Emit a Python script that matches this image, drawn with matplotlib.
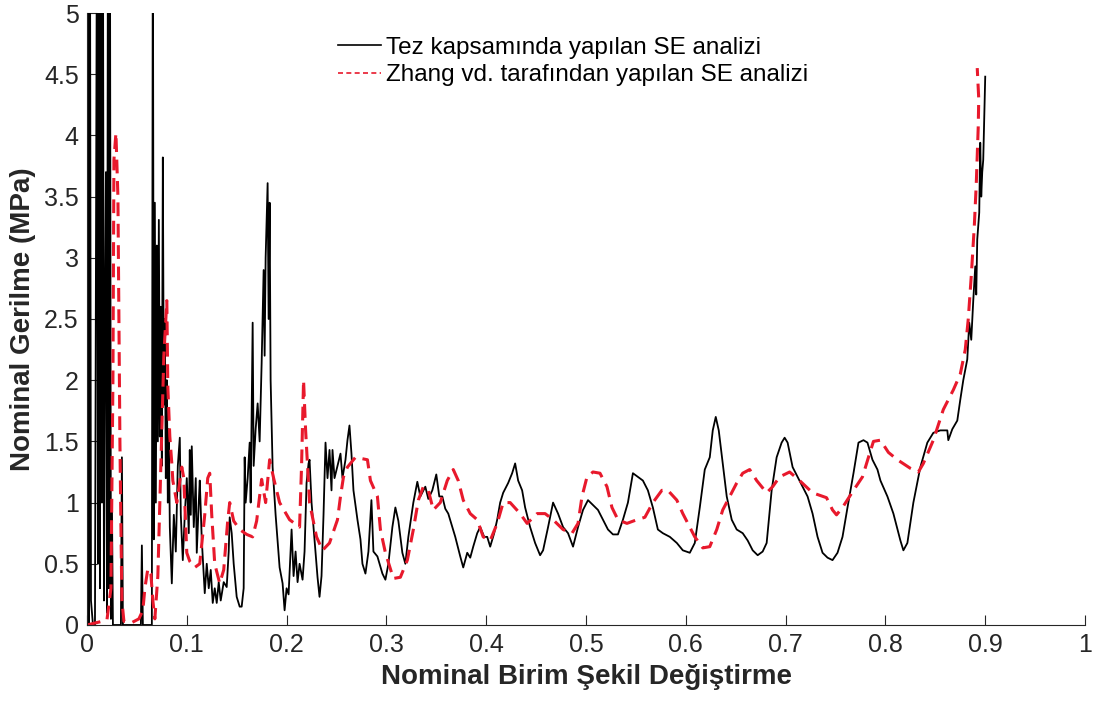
import matplotlib
matplotlib.use("Agg")
import matplotlib.pyplot as plt
from matplotlib.lines import Line2D

# --- black curve: values (values above 5 run off the top)
tez_x = [0.000, 0.001, 0.002, 0.003, 0.004, 0.006, 0.008, 0.010, 0.011, 0.012,
         0.013, 0.014, 0.015, 0.016, 0.017, 0.018, 0.019, 0.020, 0.021, 0.022,
         0.023, 0.024, 0.025, 0.026, 0.034, 0.035, 0.036, 0.054, 0.055, 0.056,
         0.065, 0.066, 0.067, 0.068, 0.069, 0.070, 0.071, 0.072, 0.073, 0.074,
         0.075, 0.076, 0.077, 0.078, 0.079, 0.080, 0.081, 0.082, 0.083, 0.085,
         0.087, 0.089, 0.091, 0.093, 0.094, 0.096, 0.098, 0.100, 0.102, 0.103,
         0.104, 0.105, 0.107, 0.109, 0.110, 0.112, 0.113, 0.115, 0.118, 0.120,
         0.122, 0.124, 0.126, 0.128, 0.130, 0.132, 0.134, 0.137, 0.140, 0.142,
         0.143, 0.145, 0.147, 0.150, 0.153, 0.155, 0.157, 0.158, 0.159, 0.161,
         0.163, 0.164, 0.166, 0.167, 0.169, 0.171, 0.173, 0.175, 0.177, 0.178,
         0.179, 0.181, 0.182, 0.183, 0.184, 0.186, 0.189, 0.193, 0.196, 0.198,
         0.200, 0.202, 0.205, 0.207, 0.209, 0.211, 0.213, 0.216, 0.218, 0.220,
         0.222, 0.223, 0.225, 0.228, 0.231, 0.233, 0.235, 0.237, 0.239, 0.241,
         0.243, 0.245, 0.246, 0.248, 0.251, 0.254, 0.256, 0.259, 0.261, 0.263,
         0.265, 0.267, 0.271, 0.274, 0.276, 0.279, 0.282, 0.285, 0.287, 0.291,
         0.296, 0.299, 0.302, 0.306, 0.309, 0.312, 0.316, 0.319, 0.322, 0.327,
         0.331, 0.334, 0.339, 0.342, 0.346, 0.350, 0.353, 0.356, 0.359, 0.362,
         0.366, 0.369, 0.374, 0.377, 0.381, 0.384, 0.387, 0.391, 0.394, 0.398,
         0.401, 0.404, 0.408, 0.411, 0.414, 0.417, 0.422, 0.426, 0.429, 0.432,
         0.436, 0.439, 0.444, 0.449, 0.454, 0.457, 0.462, 0.467, 0.472, 0.477,
         0.482, 0.487, 0.492, 0.497, 0.502, 0.507, 0.512, 0.517, 0.522, 0.527,
         0.532, 0.537, 0.542, 0.547, 0.552, 0.557, 0.562, 0.567, 0.572, 0.577,
         0.584, 0.591, 0.597, 0.604, 0.609, 0.614, 0.619, 0.624, 0.627, 0.630,
         0.633, 0.637, 0.641, 0.646, 0.651, 0.657, 0.662, 0.667, 0.672, 0.677,
         0.681, 0.686, 0.691, 0.696, 0.699, 0.702, 0.707, 0.712, 0.717, 0.722,
         0.727, 0.732, 0.737, 0.742, 0.747, 0.752, 0.757, 0.762, 0.768, 0.773,
         0.778, 0.782, 0.787, 0.792, 0.795, 0.802, 0.808, 0.815, 0.818, 0.822,
         0.828, 0.835, 0.842, 0.848, 0.855, 0.862, 0.863, 0.867, 0.872, 0.875,
         0.878, 0.882, 0.884, 0.886, 0.888, 0.890, 0.891, 0.892, 0.894, 0.895,
         0.896, 0.897, 0.898, 0.900]
tez_y = [0.00, 6.00, 0.00, 6.00, 0.20, 0.00, 0.00, 6.00, 0.50, 6.00,
         0.30, 6.00, 1.00, 6.00, 0.20, 2.50, 3.70, 0.10, 6.00, 0.30,
         6.00, 0.05, 1.00, 0.00, 0.00, 1.37, 0.00, 0.00, 0.65, 0.00,
         0.00, 6.00, 0.70, 3.45, 1.00, 3.10, 1.50, 3.31, 1.54, 2.60,
         1.30, 3.82, 1.80, 2.50, 1.20, 2.00, 1.00, 1.60, 0.80, 0.34,
         0.90, 0.60, 1.30, 1.53, 0.90, 0.53, 0.90, 1.20, 0.75, 1.43,
         0.90, 1.46, 0.80, 1.20, 0.59, 1.00, 1.18, 0.70, 0.26, 0.50,
         0.30, 0.45, 0.18, 0.30, 0.18, 0.35, 0.20, 0.35, 0.31, 0.60,
         0.88, 0.75, 0.50, 0.23, 0.15, 0.15, 0.30, 1.37, 1.00, 1.20,
         1.49, 1.00, 2.47, 1.30, 1.60, 1.81, 1.50, 2.14, 2.90, 2.20,
         3.00, 3.61, 2.50, 3.45, 2.00, 1.29, 0.90, 0.47, 0.34, 0.12,
         0.30, 0.25, 0.78, 0.40, 0.60, 0.35, 0.50, 0.37, 0.60, 1.16,
         1.32, 1.35, 1.00, 0.70, 0.39, 0.23, 0.40, 0.90, 1.49, 1.20,
         1.43, 1.10, 1.43, 1.20, 1.30, 1.40, 1.20, 1.35, 1.51, 1.63,
         1.40, 1.10, 0.86, 0.70, 0.50, 0.42, 0.60, 1.02, 0.60, 0.56,
         0.42, 0.37, 0.50, 0.80, 0.96, 0.85, 0.59, 0.50, 0.72, 1.00,
         1.17, 1.05, 1.13, 1.03, 1.10, 1.23, 1.05, 1.05, 0.95, 0.91,
         0.80, 0.72, 0.56, 0.47, 0.59, 0.55, 0.64, 0.75, 0.80, 0.72,
         0.72, 0.64, 0.75, 0.86, 1.00, 1.08, 1.16, 1.24, 1.32, 1.18,
         1.10, 0.96, 0.80, 0.67, 0.57, 0.61, 0.80, 1.00, 0.91, 0.80,
         0.75, 0.64, 0.80, 0.94, 1.02, 0.98, 0.94, 0.86, 0.78, 0.74,
         0.74, 0.86, 1.00, 1.24, 1.21, 1.18, 1.10, 0.96, 0.78, 0.75,
         0.72, 0.67, 0.61, 0.59, 0.67, 0.96, 1.27, 1.37, 1.59, 1.70,
         1.59, 1.32, 1.05, 0.86, 0.78, 0.75, 0.69, 0.61, 0.57, 0.60,
         0.67, 1.10, 1.37, 1.49, 1.53, 1.49, 1.29, 1.21, 1.13, 1.05,
         0.91, 0.72, 0.59, 0.55, 0.53, 0.59, 0.72, 0.96, 1.24, 1.49,
         1.51, 1.49, 1.35, 1.27, 1.18, 1.05, 0.91, 0.69, 0.61, 0.67,
         1.00, 1.29, 1.49, 1.57, 1.59, 1.59, 1.51, 1.60, 1.67, 1.84,
         2.00, 2.17, 2.47, 2.33, 2.65, 2.93, 2.70, 3.15, 3.37, 3.94,
         3.50, 3.70, 3.80, 4.48]

# --- red dashed curve
zhang_x = [0.000, 0.010, 0.020, 0.024, 0.026, 0.027, 0.029, 0.031, 0.032, 0.033,
           0.034, 0.035, 0.037, 0.045, 0.052, 0.056, 0.058, 0.061, 0.064, 0.066,
           0.068, 0.071, 0.074, 0.077, 0.080, 0.081, 0.083, 0.085, 0.086, 0.090,
           0.095, 0.097, 0.100, 0.103, 0.108, 0.113, 0.118, 0.121, 0.123, 0.125,
           0.128, 0.133, 0.137, 0.141, 0.143, 0.147, 0.153, 0.160, 0.166, 0.170,
           0.175, 0.179, 0.183, 0.187, 0.193, 0.203, 0.213, 0.215, 0.217, 0.219,
           0.223, 0.230, 0.236, 0.243, 0.251, 0.254, 0.257, 0.261, 0.269, 0.281,
           0.284, 0.291, 0.294, 0.299, 0.307, 0.314, 0.321, 0.327, 0.332, 0.337,
           0.342, 0.347, 0.354, 0.361, 0.367, 0.372, 0.377, 0.384, 0.391, 0.397,
           0.404, 0.411, 0.417, 0.424, 0.434, 0.441, 0.451, 0.459, 0.467, 0.477,
           0.486, 0.492, 0.496, 0.501, 0.507, 0.514, 0.521, 0.526, 0.532, 0.541,
           0.551, 0.559, 0.567, 0.576, 0.582, 0.591, 0.597, 0.604, 0.609, 0.617,
           0.624, 0.631, 0.637, 0.644, 0.651, 0.657, 0.664, 0.671, 0.681, 0.687,
           0.694, 0.704, 0.714, 0.727, 0.741, 0.747, 0.751, 0.757, 0.768, 0.777,
           0.783, 0.788, 0.795, 0.803, 0.812, 0.825, 0.833, 0.838, 0.848, 0.858,
           0.868, 0.875, 0.880, 0.883, 0.886, 0.889, 0.891, 0.893, 0.8935, 0.892]
zhang_y = [0.00, 0.02, 0.04, 0.30, 2.00, 3.80, 4.02, 3.50, 2.50, 1.50,
           0.80, 0.20, 0.03, 0.02, 0.05, 0.12, 0.30, 0.46, 0.42, 0.20,
           0.05, 0.40, 1.30, 2.20, 2.65, 1.95, 1.54, 1.32, 1.18, 1.00,
           1.29, 1.20, 0.59, 0.52, 0.47, 0.50, 0.90, 1.20, 1.24, 0.90,
           0.50, 0.34, 0.45, 0.85, 1.00, 0.85, 0.78, 0.74, 0.72, 0.85,
           1.19, 1.00, 1.35, 1.20, 1.00, 0.86, 0.80, 1.30, 2.00, 1.60,
           1.00, 0.72, 0.61, 0.67, 0.86, 1.05, 1.21, 1.29, 1.37, 1.35,
           1.18, 1.05, 0.78, 0.59, 0.38, 0.39, 0.53, 0.78, 1.02, 1.13,
           1.10, 0.94, 1.00, 1.18, 1.27, 1.18, 1.02, 0.91, 0.86, 0.72,
           0.69, 0.83, 1.00, 1.00, 0.91, 0.83, 0.91, 0.91, 0.86, 0.78,
           0.75, 0.83, 1.05, 1.21, 1.25, 1.24, 1.13, 0.96, 0.86, 0.83,
           0.86, 0.88, 1.00, 1.10, 1.10, 1.02, 0.91, 0.80, 0.72, 0.63,
           0.64, 0.78, 0.94, 1.05, 1.16, 1.24, 1.27, 1.18, 1.08, 1.13,
           1.21, 1.25, 1.18, 1.08, 1.04, 0.94, 0.90, 0.96, 1.10, 1.21,
           1.37, 1.50, 1.51, 1.41, 1.35, 1.28, 1.25, 1.32, 1.51, 1.76,
           1.92, 2.05, 2.25, 2.50, 2.85, 3.25, 3.60, 4.07, 4.30, 4.55]

x_ticks = [0, 0.1, 0.2, 0.3, 0.4, 0.5, 0.6, 0.7, 0.8, 0.9, 1]
y_ticks = [0, 0.5, 1, 1.5, 2, 2.5, 3, 3.5, 4, 4.5, 5]

plt.rcParams['font.family'] = ['Liberation Sans', 'DejaVu Sans']

fig = plt.figure(figsize=(11.01, 7.07), dpi=100)
ax = fig.add_axes([0.079, 0.116, 0.9065, 0.8656])

ax.plot(tez_x, tez_y, color='black', lw=1.3)
ax.plot(zhang_x, zhang_y, color='#e8192c', lw=2.2, dashes=(4.5, 2.5))

ax.set_xlim(0, 1)
ax.set_ylim(0, 5)
ax.set_xticks(x_ticks)
ax.set_yticks(y_ticks)
ax.set_xticklabels(['%g' % t for t in x_ticks])
ax.set_yticklabels(['%g' % t for t in y_ticks])

for side in ['top', 'right']:
    ax.spines[side].set_visible(False)
for side in ['left', 'bottom']:
    ax.spines[side].set_color('#262626')
    ax.spines[side].set_linewidth(0.8)
ax.tick_params(direction='in', length=7, width=0.8, colors='#262626',
               labelsize=18, pad=6)

ax.set_xlabel('Nominal Birim Şekil Değiştirme', fontsize=20, fontweight='bold',
              color='#262626', labelpad=5)
ax.set_ylabel('Nominal Gerilme (MPa)', fontsize=20, fontweight='bold',
              color='#262626', labelpad=6)

handles = [Line2D([], [], color='black', lw=1.2),
           Line2D([], [], color='#e8192c', lw=1.2, dashes=(3, 2))]
labels = ['Tez kapsamında yapılan SE analizi',
          'Zhang vd. tarafından yapılan SE analizi']
ax.legend(handles, labels, loc='upper left', bbox_to_anchor=(0.2415, 0.977),
          frameon=False, fontsize=17.5, handlelength=1.8, handletextpad=0.2,
          borderaxespad=0, labelspacing=0.22)

fig.savefig('out.png', dpi=100)
